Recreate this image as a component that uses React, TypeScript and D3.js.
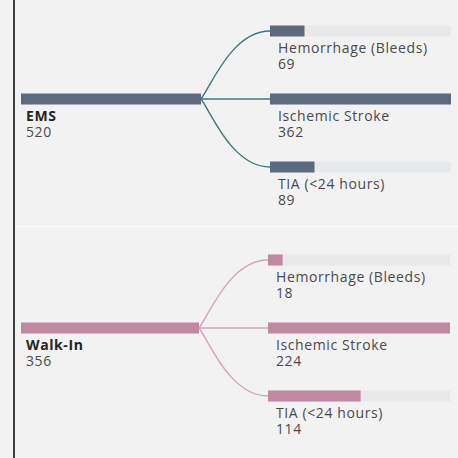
import React from 'react';
import * as d3 from 'd3';

// arrival modes (parents) and their stroke-type breakdown
const modes = ['EMS', 'Walk-In'];
const modeTotals = [520, 356];
const strokeTypes = ['Hemorrhage (Bleeds)', 'Ischemic Stroke', 'TIA (<24 hours)'];
const emsCounts = [69, 362, 89];
const walkInCounts = [18, 224, 114];
const modeColors = ['#5b6a7c', '#c188a2'];
const linkColors = ['#3d7a7e', '#d3a3b9'];

const W = 458, H = 458;
const panelH = 229;
const fs = 14;
const ls = 0.6;

function Panel({ idx, counts }: { idx: number; counts: number[] }) {
  const top = idx * panelH;
  const parentX0 = 21;
  const parentX1 = idx === 0 ? 201 : 199;
  const childX0 = idx === 0 ? 270 : 268;
  const childX1 = idx === 0 ? 451 : 450;

  const y = d3.scalePoint<string>()
    .domain(strokeTypes)
    .range([top + 31, top + 167]);
  const parentY = y(strokeTypes[1])!;

  const parentScale = d3.scaleLinear().domain([0, modeTotals[idx]]).range([0, parentX1 - parentX0]);
  const childScale = d3.scaleLinear().domain([0, d3.max(counts)!]).range([0, childX1 - childX0]);

  const barH = 11;

  // curved connector from parent bar end to each child bar
  const link = (y1: number) => {
    const p = d3.path();
    const dx = childX0 - parentX1, dy = y1 - parentY;
    p.moveTo(parentX1, parentY);
    p.bezierCurveTo(parentX1 + dx * 0.15, parentY + dy * 0.2, parentX1 + dx * 0.45, y1, childX0, y1);
    return p.toString();
  };

  return (
    <g>
      {strokeTypes.map((s) => (
        <path key={s} d={link(y(s)!)} fill="none" stroke={linkColors[idx]} strokeWidth={1.4} />
      ))}
      <rect x={parentX0} y={parentY - barH / 2} width={parentScale(modeTotals[idx])} height={barH} fill={modeColors[idx]} />
      <text x={parentX0 + 5} y={parentY + barH / 2 + 16} fontWeight="bold" fontSize={fs} letterSpacing={ls} fill="#252423">{modes[idx]}</text>
      <text x={parentX0 + 5} y={parentY + barH / 2 + 32} fontSize={fs} letterSpacing={ls} fill="#4a4a4a">{modeTotals[idx]}</text>
      {strokeTypes.map((s, i) => {
        const cy = y(s)!;
        return (
          <g key={s}>
            <rect x={childX0} y={cy - barH / 2} width={childX1 - childX0} height={barH} fill="#e8e9eb" />
            <rect x={childX0} y={cy - barH / 2} width={childScale(counts[i])} height={barH} fill={modeColors[idx]} />
            <text x={childX0 + 8} y={cy + barH / 2 + 16.5} fontSize={fs} letterSpacing={ls} fill="#4a4a4a">{s}</text>
            <text x={childX0 + 8} y={cy + barH / 2 + 32.5} fontSize={fs} letterSpacing={ls} fill="#4a4a4a">{counts[i]}</text>
          </g>
        );
      })}
    </g>
  );
}

export default function App() {
  return (
    <div style={{ position: 'fixed', left: 0, top: 0 }}>
      <svg width={W} height={H} style={{ display: 'block', fontFamily: '"Open Sans", sans-serif' }}>
        <rect width={W} height={H} fill="#f2f2f2" />
        <line x1={15} x2={W} y1={226.5} y2={226.5} stroke="#f9f9f9" strokeWidth={1.5} />
        <line x1={14} x2={14} y1={0} y2={H} stroke="#111" strokeWidth={1.6} />
        <Panel idx={0} counts={emsCounts} />
        <Panel idx={1} counts={walkInCounts} />
      </svg>
    </div>
  );
}
